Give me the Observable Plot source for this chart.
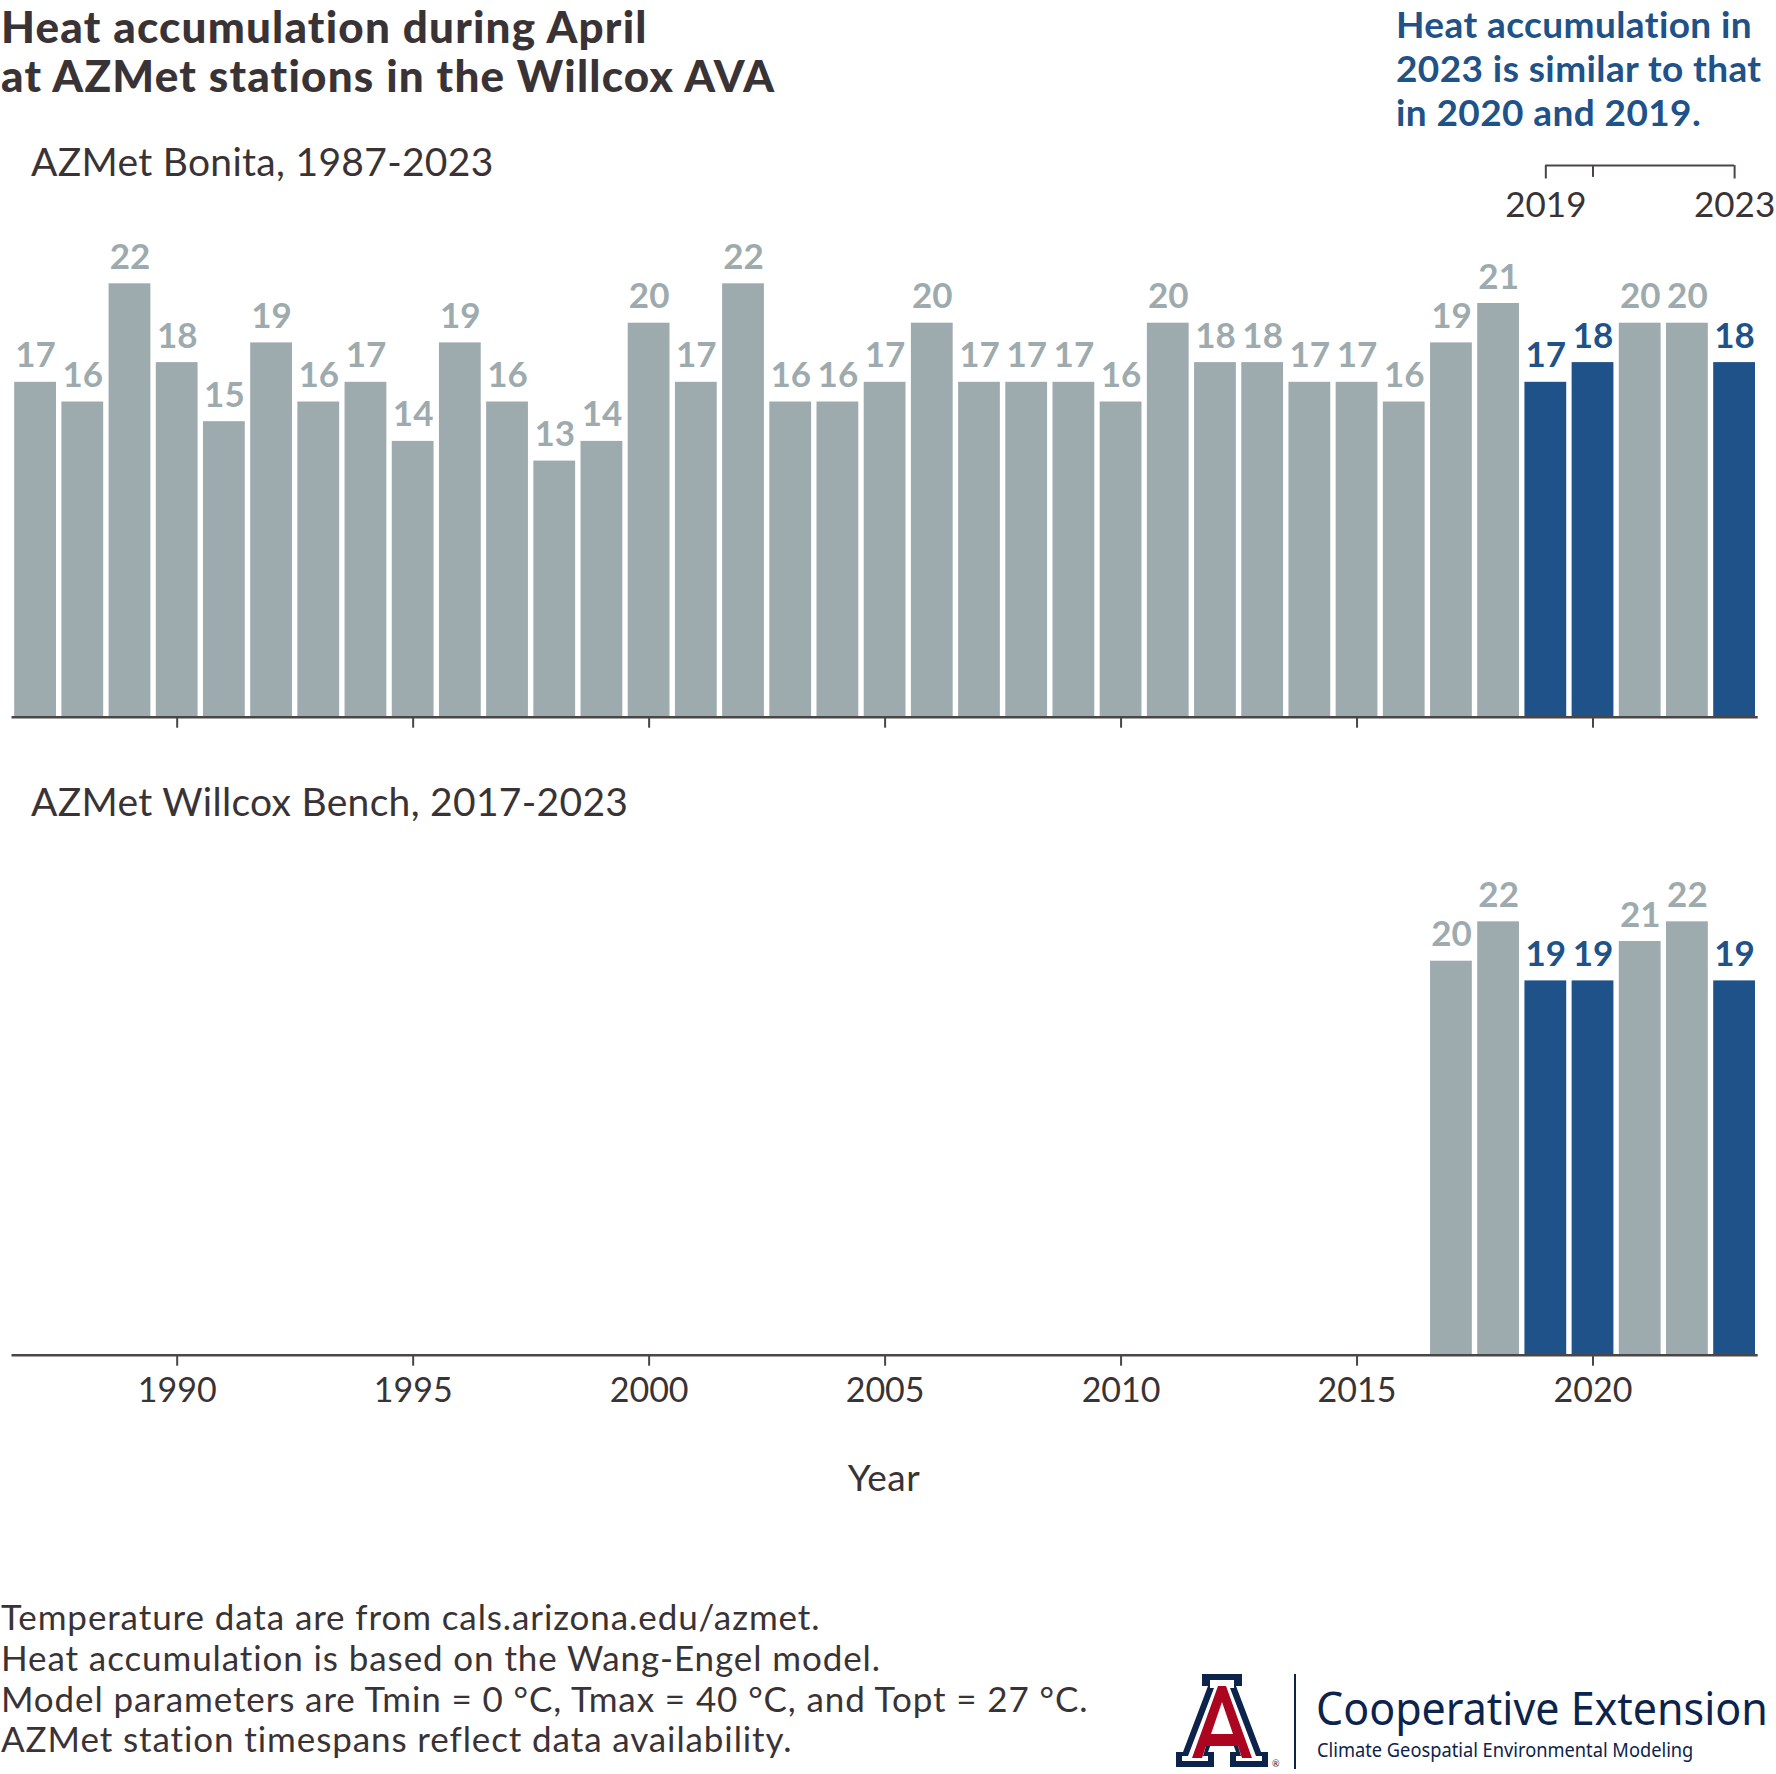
<!DOCTYPE html>
<html><head><meta charset="utf-8">
<script src="https://cdn.jsdelivr.net/npm/d3@7"></script>
<script src="https://cdn.jsdelivr.net/npm/@observablehq/plot@0.6"></script>
<style>
body{margin:0;background:#fff;}
#page{position:relative;width:1776px;height:1774px;font-family:Lato,sans-serif;color:#3a3335;overflow:hidden;background:#fff}
.abs{position:absolute;white-space:nowrap}
#title{left:1px;top:2px;font-size:44px;line-height:48.5px;font-weight:900;letter-spacing:1.2px;color:#3a3335}
.sub{left:31px;font-size:39px;line-height:44px;font-weight:400;letter-spacing:0.3px}
#note{left:1396px;top:2px;font-size:37px;line-height:44.2px;font-weight:700;letter-spacing:0.4px;color:#1e5288}
#foot{left:1px;top:1596px;font-size:35px;line-height:40.8px;letter-spacing:0.9px}
#year{left:0;width:1768px;text-align:center;top:1455px;font-size:37px;line-height:44px;letter-spacing:0.5px}
.logo{position:absolute;white-space:nowrap;font-family:'Noto Sans',sans-serif;color:#0c234b;transform-origin:0 50%}
</style></head><body><div id="page">
<div id="title" class="abs">Heat accumulation during April<br>at AZMet stations in the Willcox AVA</div>
<div id="note" class="abs">Heat accumulation in<br>2023 is similar to that<br>in 2020 and 2019.</div>
<div id="top" class="abs" style="left:0;top:132px"></div>
<div id="bottom" class="abs" style="left:0;top:740px"></div>
<div class="abs sub" style="top:139px">AZMet Bonita, 1987-2023</div>
<div class="abs sub" style="top:779px">AZMet Willcox Bench, 2017-2023</div>
<div id="year" class="abs">Year</div>
<div id="foot" class="abs">Temperature data are from cals.arizona.edu/azmet.<br>Heat accumulation is based on the Wang-Engel model.<br>Model parameters are Tmin = 0 °C, Tmax = 40 °C, and Topt = 27 °C.<br>AZMet station timespans reflect data availability.</div>
<svg class="abs" style="left:1160px;top:1668px" width="140" height="106" viewBox="0 0 140 106">
  <g transform="translate(12,6)">
    <path d="M4,93 V78 H11 L36,12 H30 V0 H70 V12 H64 L89,78 H96 V93 H58 V78 H64 L60,67 H40 L36,78 H42 V93 Z" fill="#0c234b"/>
    <path d="M10,87 V82 H16 L42,14 H38 V6 H62 V14 H58 L84,82 H90 V87 H64 V82 H69 L63,62 H37 L31,82 H36 V87 Z" fill="#ffffff"/>
    <path d="M15,84 V84 H20 L46,12 H54 L80,84 H86 V84 H70 L66,72 H34 L30,84 Z M39,60 H61 L50,28 Z" fill="#ab0520" fill-rule="evenodd"/>
    <text x="100" y="93" font-size="9" fill="#0c234b" font-family="Lato">®</text>
  </g>
  <line x1="135" y1="6" x2="135" y2="101" stroke="#0c234b" stroke-width="2"/>
</svg>
<div class="logo" style="left:1316px;top:1680px;font-size:45px;line-height:56px;transform:scaleX(0.955)">Cooperative Extension</div>
<div class="logo" style="left:1317px;top:1738px;font-size:19px;line-height:24px;transform:scaleX(0.96)">Climate Geospatial Environmental Modeling</div>
</div>
<script>
const gray = "#9eabae";
const blue = "#1e5288";
const ink = "#3a3335";
const axisInk = "#4a4646";

const bonitaYears = [1987,1988,1989,1990,1991,1992,1993,1994,1995,1996,1997,1998,1999,2000,2001,2002,2003,2004,2005,2006,2007,2008,2009,2010,2011,2012,2013,2014,2015,2016,2017,2018,2019,2020,2021,2022,2023];
const bonitaValues = [17,16,22,18,15,19,16,17,14,19,16,13,14,20,17,22,16,16,17,20,17,17,17,16,20,18,18,17,17,16,19,21,17,18,20,20,18];
const willcoxYears = [2017,2018,2019,2020,2021,2022,2023];
const willcoxValues = [20,22,19,19,21,22,19];
const highlightYears = [2019,2020,2023];
const bracketLabelYears = [2019,2023];
const tickYears = [1990,1995,2000,2005,2010,2015,2020];

const bonita = bonitaYears.map((year,i)=>({year, value:bonitaValues[i]}));
const willcox = willcoxYears.map((year,i)=>({year, value:willcoxValues[i]}));
const isHi = d => highlightYears.includes(d.year);

const yMax = 28;

function barMarks(data){
  return [
    Plot.rectY(data, {filter: d=>!isHi(d), x1: d=>d.year-0.5, x2: d=>d.year+0.5, y: "value", fill: gray, insetLeft: 2.7, insetRight: 2.7}),
    Plot.rectY(data, {filter: isHi, x1: d=>d.year-0.5, x2: d=>d.year+0.5, y: "value", fill: blue, insetLeft: 2.7, insetRight: 2.7}),
    Plot.text(data, {filter: d=>!isHi(d), x: "year", y: "value", text: d=>String(d.value), dy: -15, lineAnchor: "bottom", fontSize: 35, fontWeight: 700, fill: gray}),
    Plot.text(data, {filter: isHi, x: "year", y: "value", text: d=>String(d.value), dy: -15, lineAnchor: "bottom", fontSize: 35, fontWeight: 700, fill: blue}),
    Plot.ruleY([0], {stroke: axisInk, strokeWidth: 2.5})
  ];
}

const common = {
  width: 1776,
  marginLeft: 11.5,
  marginRight: 18.3,
  style: {fontFamily: "Lato, sans-serif", fontSize: "34px", color: ink, background: "transparent", overflow: "visible"},
  x: {domain: [1986.5, 2023.5], label: null},
  y: {domain: [0, yMax], axis: null}
};

const topPlot = Plot.plot({
  ...common,
  height: 600,
  marginTop: 33.1,
  marginBottom: 15.3,
  marks: [
    ...barMarks(bonita),
    Plot.axisX({ticks: tickYears, tickFormat: () => "", tickSize: 11, stroke: axisInk, strokeWidth: 2, label: null}),
    Plot.ruleY([{y: yMax, x1: highlightYears[0], x2: highlightYears[highlightYears.length-1]}], {y: "y", x1: "x1", x2: "x2", stroke: axisInk, strokeWidth: 2}),
    Plot.ruleX(highlightYears, {x: d=>d, y1: () => yMax, y2: d => bracketLabelYears.includes(d) ? yMax - 0.68 : yMax - 0.6, stroke: axisInk, strokeWidth: 2}),
    Plot.text(bracketLabelYears, {x: d=>d, y: () => yMax, dy: 40, text: d=>String(d), fontSize: 35, fill: ink})
  ]
});

const bottomPlot = Plot.plot({
  ...common,
  height: 680,
  marginTop: 63.1,
  marginBottom: 65.3,
  marks: [
    ...barMarks(willcox),
    Plot.axisX({ticks: tickYears, tickFormat: d => String(d), tickSize: 11, tickPadding: 12, stroke: axisInk, strokeWidth: 2, fill: ink, fontSize: 34, label: null})
  ]
});

document.getElementById("top").appendChild(topPlot);
document.getElementById("bottom").appendChild(bottomPlot);
</script>
</body></html>
